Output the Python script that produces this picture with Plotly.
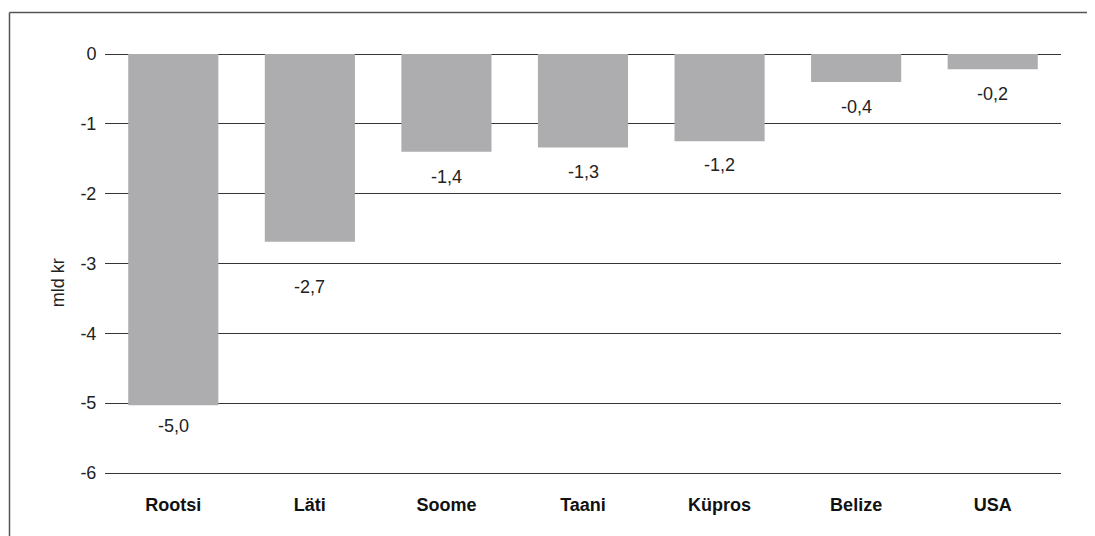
import plotly.graph_objects as go

categories = ["Rootsi", "Läti", "Soome", "Taani", "Küpros", "Belize", "USA"]
values = [-5.03, -2.69, -1.40, -1.34, -1.25, -0.40, -0.22]
value_labels = ["-5,0", "-2,7", "-1,4", "-1,3", "-1,2", "-0,4", "-0,2"]
tick_vals = [0, -1, -2, -3, -4, -5, -6]
tick_text = ["0", "-1", "-2", "-3", "-4", "-5", "-6"]

# label offsets below bar ends (pixels)
label_shift = [-9, -33, -13, -12, -12, -13, -13]

FONT = "Liberation Sans, Arial, Helvetica, sans-serif"
BAR_COLOR = "#ADADB0"
GRID = "#353535"
FS = 18

fig = go.Figure()
fig.add_trace(go.Bar(
    x=categories, y=values,
    marker=dict(color=BAR_COLOR, line=dict(width=0)),
    width=0.66,
    hoverinfo="skip",
))

for c, v, t, s in zip(categories, values, value_labels, label_shift):
    fig.add_annotation(x=c, y=v, text=t, showarrow=False, xref="x", yref="y",
                       yanchor="top", yshift=s,
                       font=dict(family=FONT, size=FS, color="#222"))

fig.add_annotation(text="mld kr", xref="paper", yref="paper", x=-0.049, y=0.453,
                   xanchor="center", yanchor="middle", textangle=-90, showarrow=False,
                   font=dict(family=FONT, size=FS, color="#222"))

# frame lines (top and left)
fig.add_shape(type="line", xref="paper", yref="paper", x0=-0.0999, x1=1.2, y0=1.099, y1=1.099,
              line=dict(color="#555", width=1.5))
fig.add_shape(type="line", xref="paper", yref="paper", x0=-0.0999, x1=-0.0999, y0=1.099, y1=-0.3,
              line=dict(color="#555", width=1.5))

fig.update_layout(
    width=1095, height=536,
    margin=dict(l=97, r=42, t=46, b=71),
    paper_bgcolor="white", plot_bgcolor="white",
    showlegend=False,
    font=dict(family=FONT, size=FS, color="#222"),
    xaxis=dict(
        showgrid=False, zeroline=False,
        showline=True, linecolor=GRID, linewidth=1.4,
        ticks="outside", ticklen=15, tickcolor="rgba(0,0,0,0)",
        tickfont=dict(family=FONT, size=FS, color="#111", weight="bold"),
        fixedrange=True,
    ),
    yaxis=dict(
        range=[-6, 0], tickvals=tick_vals, ticktext=tick_text,
        showgrid=True, gridcolor=GRID, gridwidth=1.4,
        zeroline=True, zerolinecolor=GRID, zerolinewidth=1.4,
        showline=False,
        ticks="outside", ticklen=4, tickcolor="rgba(0,0,0,0)",
        tickfont=dict(family=FONT, size=FS, color="#222"),
        fixedrange=True,
    ),
)

fig.write_html("out.html")
